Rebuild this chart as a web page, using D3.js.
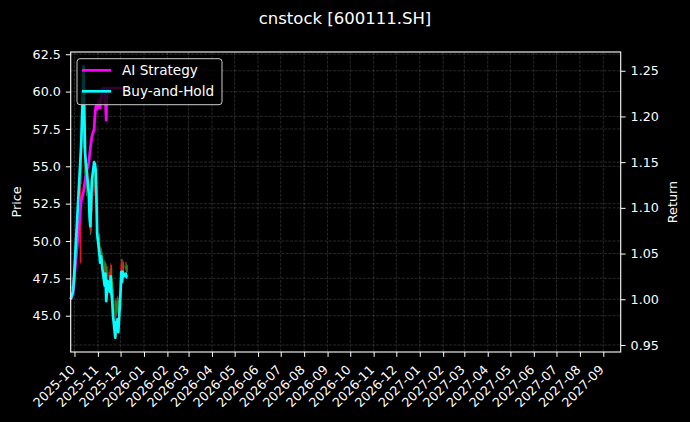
<!DOCTYPE html>
<html>
<head>
<meta charset="utf-8">
<script src="https://cdn.jsdelivr.net/npm/d3@7"></script>
<style>
  body { margin: 0; background: #000; }
  text { font-family: "DejaVu Sans", sans-serif; fill: #fff; }
</style>
</head>
<body>
<div id="chart"></div>
<script>
var margin = {top: 52, right: 69.3, bottom: 70, left: 70.7},
    width = 690 - margin.left - margin.right,
    height = 422 - margin.top - margin.bottom;

// trading days shown in the picture
var dates = ["2025-09-26","2025-09-29","2025-09-30","2025-10-09","2025-10-10","2025-10-13","2025-10-14","2025-10-15","2025-10-16","2025-10-17",
    "2025-10-20","2025-10-21","2025-10-22","2025-10-23","2025-10-24","2025-10-27","2025-10-28","2025-10-29","2025-10-30","2025-10-31",
    "2025-11-03","2025-11-04","2025-11-05","2025-11-06","2025-11-07","2025-11-10","2025-11-11","2025-11-12","2025-11-13","2025-11-14",
    "2025-11-17","2025-11-18","2025-11-19","2025-11-20","2025-11-21","2025-11-24","2025-11-25","2025-11-26","2025-11-27","2025-11-28",
    "2025-12-01","2025-12-02","2025-12-03","2025-12-04","2025-12-05","2025-12-08","2025-12-09","2025-12-10"];

var openP = [46.80,47.00,47.40,48.60,54.80,56.50,59.50,56.40,54.80,54.20,
    53.50,52.30,51.10,50.70,52.00,53.30,54.20,53.90,53.60,52.20,
    50.20,49.40,48.80,49.30,49.00,48.50,47.60,48.30,46.90,47.40,
    47.90,47.30,48.20,47.30,46.80,46.00,45.00,45.80,45.40,46.00,
    45.40,47.40,48.50,47.90,48.40,48.10,48.30,48.10];
var highP = [47.20,47.60,48.10,54.60,56.00,61.74,59.90,56.80,55.10,54.60,
    53.80,52.60,51.40,52.30,53.40,54.40,54.60,54.30,53.90,52.40,
    50.50,49.70,49.60,49.50,49.20,48.70,48.60,48.50,47.70,48.30,
    48.10,48.50,48.40,47.50,47.00,46.10,46.20,46.00,46.30,46.20,
    47.60,48.80,48.80,48.70,48.60,48.60,48.50,48.40];
var lowP = [46.50,46.80,47.10,48.50,53.80,56.20,56.20,54.00,53.50,53.00,
    52.10,50.90,50.40,50.50,51.80,53.00,53.60,53.20,52.20,50.10,
    49.10,48.50,48.60,48.70,48.30,47.40,47.50,46.70,46.70,47.20,
    47.10,47.20,47.10,46.60,45.90,44.60,43.48,45.10,45.20,45.00,
    45.30,47.20,47.70,47.80,48.00,48.00,47.90,47.90];
var closeP = [47.00,47.38,47.85,54.29,55.08,58.99,56.64,54.52,54.05,53.72,
    52.41,51.23,50.76,51.94,53.11,54.05,53.96,53.67,52.41,50.38,
    49.35,48.88,49.21,48.97,48.55,47.71,48.32,46.91,47.38,47.94,
    47.38,48.18,47.28,46.91,46.15,45.03,45.83,45.40,45.97,45.31,
    47.38,48.41,47.89,48.41,48.18,48.32,48.13,48.13];

var aiReturn = [1.000,1.006,1.015,1.100,1.108,1.118,1.124,1.130,1.135,1.139,
    1.150,1.158,1.165,1.172,1.178,1.186,1.200,1.210,1.212,1.208,
    1.218,1.209,1.218,1.223,1.231,1.231,1.215,1.196,1.231,1.231,
    1.231,1.231,1.231,1.231,1.231,1.231,1.231,1.231,1.231,1.231,
    1.231,1.231,1.231,1.231,1.231,1.231,1.231,1.231];
var bhReturn = [1.000,1.008,1.018,1.155,1.172,1.255,1.205,1.160,1.150,1.143,
    1.115,1.090,1.080,1.105,1.130,1.150,1.148,1.142,1.115,1.072,
    1.050,1.040,1.047,1.042,1.033,1.015,1.028,0.998,1.008,1.020,
    1.008,1.025,1.006,0.998,0.982,0.958,0.975,0.966,0.978,0.964,
    1.008,1.030,1.019,1.030,1.025,1.028,1.024,1.024];

var xDomain = ["2025-09-26", "2027-09-24"];
var priceDomain = [42.57, 62.65];
var returnDomain = [0.9423, 1.2705];
var priceTicks = [45.0, 47.5, 50.0, 52.5, 55.0, 57.5, 60.0, 62.5];
var returnTicks = [0.95, 1.00, 1.05, 1.10, 1.15, 1.20, 1.25];

var parse = d3.timeParse("%Y-%m-%d");

var data = dates.map(function(d, i) {
    return {Date: parse(d), Open: openP[i], High: highP[i], Low: lowP[i], Close: closeP[i],
        AI: aiReturn[i], BH: bhReturn[i]};
});

var svg = d3.select("#chart")
    .append("svg")
    .attr("width", 690)
    .attr("height", 422)
    .style("background", "#000");

var chart = svg.append("g")
    .attr("transform", "translate(" + margin.left + "," + margin.top + ")");

var x = d3.scaleTime()
    .domain(xDomain.map(parse))
    .range([0, width]);
var y = d3.scaleLinear().domain(priceDomain).range([height, 0]);
var y2 = d3.scaleLinear().domain(returnDomain).range([height, 0]);

var months = d3.timeMonth.range(parse("2025-10-01"), parse("2027-09-02"));

// grid
var grid = chart.append("g")
    .attr("stroke", "#fff")
    .attr("stroke-opacity", 0.22)
    .attr("stroke-width", 0.7)
    .attr("stroke-dasharray", "3,1.3");
grid.selectAll(".gx").data(months).enter().append("line")
    .attr("x1", d => x(d)).attr("x2", d => x(d))
    .attr("y1", 0).attr("y2", height);
grid.selectAll(".gy").data(priceTicks).enter().append("line")
    .attr("x1", 0).attr("x2", width)
    .attr("y1", d => y(d)).attr("y2", d => y(d));
grid.selectAll(".gy2").data(returnTicks).enter().append("line")
    .attr("x1", 0).attr("x2", width)
    .attr("y1", d => y2(d)).attr("y2", d => y2(d));

// candles (red up, green down)
var upColor = "#e8141a", downColor = "#1f8a1f";
var candles = chart.append("g").selectAll("g")
    .data(data)
    .enter()
    .append("g");
candles.append("line")
    .attr("x1", d => x(d.Date)).attr("x2", d => x(d.Date))
    .attr("y1", d => y(d.High)).attr("y2", d => y(d.Low))
    .attr("stroke", d => d.Close >= d.Open ? upColor : downColor)
    .attr("stroke-width", 1);
candles.append("rect")
    .attr("x", d => x(d.Date) - 0.8)
    .attr("width", 1.6)
    .attr("y", d => y(Math.max(d.Open, d.Close)))
    .attr("height", d => Math.max(0.8, Math.abs(y(d.Open) - y(d.Close))))
    .attr("fill", d => d.Close >= d.Open ? upColor : downColor);

chart.append("path")
    .datum(data)
    .attr("fill", "none")
    .attr("stroke", "#ff00ff")
    .attr("stroke-width", 2.7)
    .attr("stroke-linejoin", "round")
    .attr("d", d3.line().x(d => x(d.Date)).y(d => y2(d.AI)));

chart.append("path")
    .datum(data)
    .attr("fill", "none")
    .attr("stroke", "#00ffff")
    .attr("stroke-width", 2.7)
    .attr("stroke-linejoin", "round")
    .attr("d", d3.line().x(d => x(d.Date)).y(d => y2(d.BH)));

// axes
var xAxis = chart.append("g")
    .attr("transform", "translate(0," + height + ")")
    .call(d3.axisBottom(x).tickValues(months).tickFormat(d3.timeFormat("%Y-%m")).tickSize(4.9).tickPadding(0));
xAxis.selectAll("text")
    .attr("text-anchor", "end")
    .attr("font-size", 12.7)
    .attr("dy", 0)
    .attr("transform", "translate(-2.5,15) rotate(-45)");

var yAxis = chart.append("g")
    .call(d3.axisLeft(y).tickValues(priceTicks).tickFormat(d3.format(".1f")).tickSize(4.9).tickPadding(5));
yAxis.selectAll("text").attr("font-size", 12.7);

var yAxis2 = chart.append("g")
    .attr("transform", "translate(" + width + ",0)")
    .call(d3.axisRight(y2).tickValues(returnTicks).tickFormat(d3.format(".2f")).tickSize(4.9).tickPadding(5));
yAxis2.selectAll("text").attr("font-size", 12.7);

chart.selectAll(".domain").remove();
chart.selectAll(".tick line").attr("stroke", "#fff").attr("stroke-width", 1);
chart.selectAll(".tick text").attr("fill", "#fff").attr("font-family", "DejaVu Sans");

chart.append("rect")
    .attr("width", width)
    .attr("height", height)
    .attr("fill", "none")
    .attr("stroke", "#fff")
    .attr("stroke-width", 1.1);

// legend
var legend = chart.append("g").attr("transform", "translate(6.3,6.7)");
legend.append("rect")
    .attr("width", 145).attr("height", 46).attr("rx", 3)
    .attr("fill", "#000").attr("fill-opacity", 0.8)
    .attr("stroke", "#ccc").attr("stroke-width", 1);
[["AI Strategy", "#ff00ff"], ["Buy-and-Hold", "#00ffff"]].forEach(function(l, i) {
    legend.append("line")
        .attr("x1", 5).attr("x2", 34)
        .attr("y1", 11.6 + i * 21).attr("y2", 11.6 + i * 21)
        .attr("stroke", l[1]).attr("stroke-width", 2.7);
    legend.append("text")
        .attr("x", 45).attr("y", 16.4 + i * 21)
        .attr("font-size", 13.6)
        .text(l[0]);
});

svg.append("text")
    .attr("x", 345).attr("y", 24)
    .attr("text-anchor", "middle")
    .attr("font-size", 16.5)
    .text("cnstock [600111.SH]");

svg.append("text")
    .attr("transform", "translate(21," + (margin.top + height / 2) + ") rotate(-90)")
    .attr("text-anchor", "middle")
    .attr("font-size", 12.8)
    .text("Price");

svg.append("text")
    .attr("transform", "translate(677," + (margin.top + height / 2) + ") rotate(-90)")
    .attr("text-anchor", "middle")
    .attr("font-size", 12.8)
    .text("Return");
</script>
</body>
</html>
